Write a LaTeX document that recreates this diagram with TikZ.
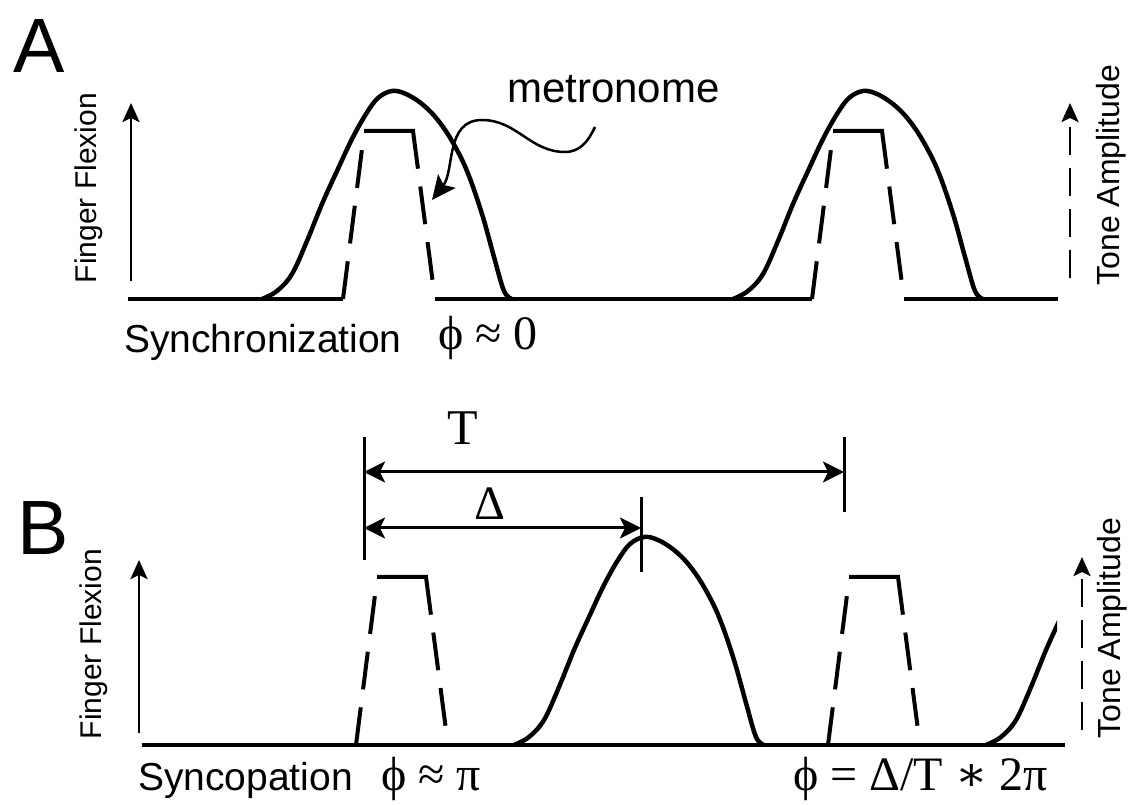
\documentclass[tikz,border=0pt]{standalone}
\usepackage{fontspec}
\setmainfont{Liberation Sans}
\newfontfamily\greekserif{Liberation Serif}
\newfontfamily\symserif{DejaVu Serif}
\usetikzlibrary{arrows.meta}
\tikzset{
  flexcurve/.style={line width=4.5pt,line join=round},
  toneside/.style={line width=4pt,dash pattern=on 38pt off 18pt},
  tonetop/.style={line width=4pt,line join=miter,
                  dash pattern=on 87pt off 18pt on 38pt off 18pt on 38pt off 40pt},
  baseln/.style={line width=4pt},
  axisarr/.style={line width=2.8pt,-{Stealth[length=19pt,width=17pt,inset=4pt]}},
  toneaxis/.style={axisarr,dash pattern=on 28pt off 13pt},
  dimarr/.style={line width=3pt,
                 {Stealth[length=21pt,width=21pt,inset=5pt]}-{Stealth[length=21pt,width=21pt,inset=5pt]}},
  dimtick/.style={line width=3pt},
  wave/.style={line width=2.5pt,-{Stealth[length=24pt,width=22pt,inset=5pt]}},
  panel/.style={font=\fontsize{77}{80}\selectfont,inner sep=0pt},
  fflbl/.style={font=\fontsize{30}{32}\selectfont,inner sep=0pt,rotate=90},
  talbl/.style={font=\fontsize{32}{34}\selectfont,inner sep=0pt,rotate=90},
  caplbl/.style={font=\fontsize{39}{44}\selectfont,inner sep=0pt},
  mathlbl/.style={font=\greekserif\fontsize{48}{52}\selectfont,inner sep=0pt},
}
% finger flexion pulse, peak at #1, baseline #2
\newcommand\flexion[2]{%
  \draw[flexcurve,shift={(#1,#2)}] plot[smooth,tension=0.6] coordinates {
    (-130,0) (-115,8) (-100,25) (-85,58) (-70,95) (-55,128) (-40,160) (-26,185)
    (-14,201) (0,208) (14,205) (30,195) (45,180) (60,158) (75,128) (90,85)
    (102,42) (112,8) (120,0)};}
% metronome tone, left foot at #1, baseline #2
\newcommand\tonepulse[2]{%
  \draw[toneside,shift={(#1,#2)}] (0,0) -- (19,150);
  \draw[tonetop,shift={(#1,#2)}] (21,168) -- (70,168) -- (92,0);}

\begin{document}
\begin{tikzpicture}[x=1pt,y=1pt]
  \useasboundingbox (0,0) rectangle (1136,804);

  % ---- A: synchronization
  \node[panel,anchor=base west] (labA) at (13,731) {A};
  \draw[baseln] (128,505) -- (343,505) (435,505) -- (812,505) (904,505) -- (1058,505);
  \foreach \x in {343,812} {\tonepulse{\x}{505}}
  \foreach \p in {392,863} {\flexion{\p}{505}}

  \coordinate (aLow) at (131,523);
  \coordinate (aTop) at (131,701);
  \draw[axisarr] (aLow) -- (aTop);
  \coordinate (tLowA) at (1070,526);
  \coordinate (tTopA) at (1070,701);
  \draw[toneaxis] (tLowA) -- (tTopA);
  \node[fflbl] (ffA) at (89,616) {Finger Flexion};
  \node[talbl] (taA) at (1111,629) {Tone Amplitude};

  \node[caplbl,font=\fontsize{42}{44}\selectfont,anchor=base west] (metro) at (507,701) {metronome};
  \coordinate (waveStart) at (595,677);
  \coordinate (waveTip) at (432,604);
  \draw[wave] (waveStart) to[out=-115,in=0] (565,652) to[out=180,in=0] (482,684)
    to[out=180,in=52] (waveTip);

  \node[caplbl,anchor=base west] (sync) at (124,451) {Synchronization};
  \node[mathlbl,anchor=base west] (phiA) at (438,454) {ϕ ≈ 0};

  % ---- B: syncopation
  \node[panel,anchor=base west] (labB) at (17,249) {B};
  \draw[baseln] (142,59) -- (1065,59);
  \foreach \x in {356,828} {\tonepulse{\x}{59}}
  \flexion{644}{59}
  \begin{scope}
    \clip (900,0) rectangle (1057,804);
    \flexion{1116}{59}
  \end{scope}

  \coordinate (bLow) at (139,71);
  \coordinate (bTop) at (139,244);
  \draw[axisarr] (bLow) -- (bTop);
  \coordinate (tLowB) at (1082,74);
  \coordinate (tTopB) at (1082,247);
  \draw[toneaxis] (tLowB) -- (tTopB);
  \node[fflbl] (ffB) at (94,160) {Finger Flexion};
  \node[talbl] (taB) at (1112,176) {Tone Amplitude};

  % period and delay
  \draw[dimtick] (364,367) -- (364,244);
  \draw[dimtick] (844,367) -- (844,292);
  \draw[dimtick] (641,307) -- (641,232);
  \coordinate (perL) at (364,332);
  \coordinate (perR) at (844,332);
  \coordinate (delL) at (364,276);
  \coordinate (delR) at (641,276);
  \draw[dimarr] (perL) -- (perR);
  \draw[dimarr] (delL) -- (delR);
  \node[mathlbl,font=\greekserif\fontsize{50}{52}\selectfont,anchor=base] (perLbl) at (463,359) {T};
  \node[mathlbl,anchor=base] (delLbl) at (490,284) {Δ};

  \node[caplbl,anchor=base west] (synco) at (138,14) {Syncopation};
  \node[mathlbl,anchor=base west] (phiB) at (381,14) {ϕ ≈ π};
  \node[mathlbl,anchor=base west] (phiRel) at (793,14) {ϕ = Δ/T {\symserif ∗} 2π};
\end{tikzpicture}
\end{document}
